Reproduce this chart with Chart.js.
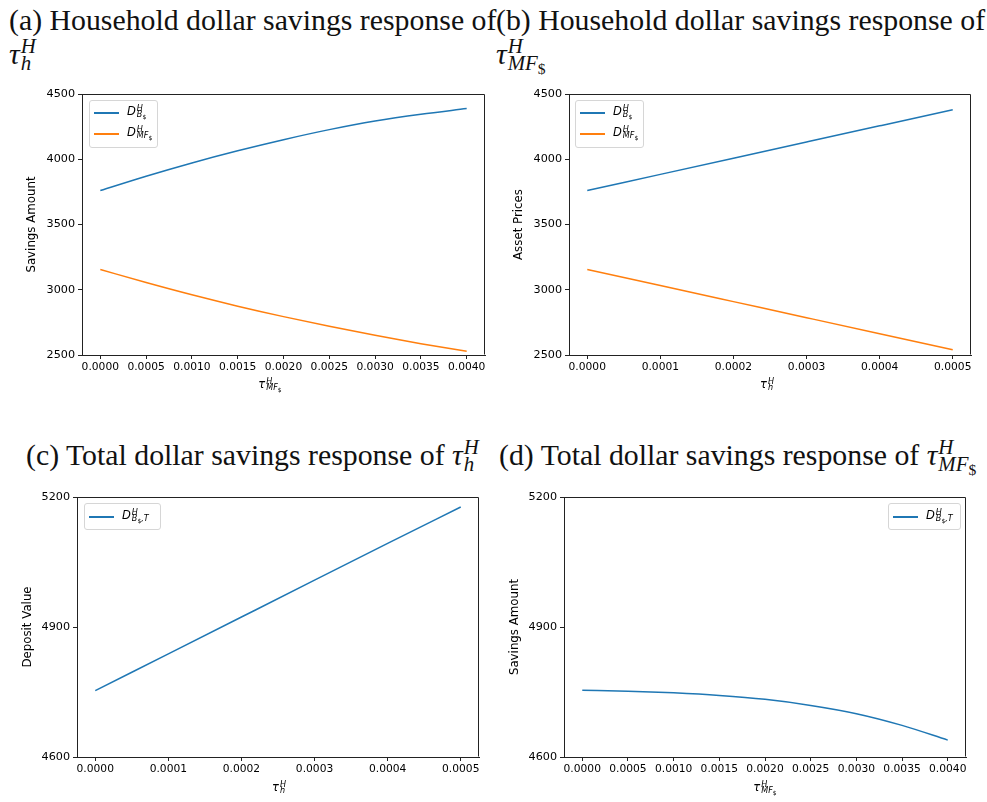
<!DOCTYPE html>
<html>
<head>
<meta charset="utf-8">
<script src="https://cdn.jsdelivr.net/npm/chart.js@4.4.0/dist/chart.umd.min.js"></script>
<style>
  html, body { margin: 0; padding: 0; background: #fff; }
  body { width: 987px; height: 802px; position: relative; overflow: hidden; font-family: "DejaVu Sans", sans-serif; color: #000; }
  canvas { position: absolute; }
  .title { position: absolute; font-family: "Liberation Serif", "DejaVu Serif", serif; font-size: 29.8px; line-height: 34px; white-space: nowrap; color: #111; }
  .mi { font-style: italic; }
  .ss { display: inline-flex; flex-direction: column; vertical-align: 0.38em; line-height: 0.82; margin-left: 1px; }
  .ss > span { font-size: 0.7em; display: block; font-style: italic; }
  .ssb { font-size: 0.75em; font-style: normal; position: relative; top: 0.25em; }
  .leg { position: absolute; border: 1px solid #d6d6d6; border-radius: 3px; background: rgba(255,255,255,0.85); box-sizing: border-box; }
  .leg .sw { position: absolute; height: 1.5px; width: 25px; }
  .leg .lab { position: absolute; font-size: 11.5px; line-height: 12px; white-space: nowrap; }
  .xlab { position: absolute; font-size: 11.5px; line-height: 12px; white-space: nowrap; transform: translateX(-50%); }
</style>
</head>
<body>

<!-- panel titles -->
<div class="title" style="left:9px;top:3px">(a) Household dollar savings response of<br><span class="mi">τ</span><span class="ss"><span>H</span><span>h</span></span></div>
<div class="title" style="left:496px;top:3px">(b) Household dollar savings response of<br><span class="mi">τ</span><span class="ss"><span>H</span><span>MF<span class="ssb">$</span></span></span></div>
<div class="title" style="left:26px;top:438px">(c) Total dollar savings response of <span class="mi">τ</span><span class="ss"><span>H</span><span>h</span></span></div>
<div class="title" style="left:499px;top:438px">(d) Total dollar savings response of <span class="mi">τ</span><span class="ss"><span>H</span><span>MF<span class="ssb">$</span></span></span></div>

<canvas id="cA" width="495" height="320" style="left:0px;top:80px"></canvas>
<canvas id="cB" width="497" height="320" style="left:490px;top:80px"></canvas>
<canvas id="cC" width="495" height="322" style="left:0px;top:480px"></canvas>
<canvas id="cD" width="497" height="322" style="left:490px;top:480px"></canvas>

<!-- legends -->
<div class="leg" style="left:89px;top:100px;width:69px;height:48px">
  <div class="sw" style="left:4px;top:11px;background:#1f77b4"></div>
  <div class="lab" style="left:37px;top:4px"><i>D</i><span class="ss"><span>H</span><span>B<span class="ssb">$</span></span></span></div>
  <div class="sw" style="left:4px;top:32px;background:#ff7f0e"></div>
  <div class="lab" style="left:37px;top:25px"><i>D</i><span class="ss"><span>H</span><span>MF<span class="ssb">$</span></span></span></div>
</div>
<div class="leg" style="left:575px;top:100px;width:69px;height:48px">
  <div class="sw" style="left:4px;top:11px;background:#1f77b4"></div>
  <div class="lab" style="left:37px;top:4px"><i>D</i><span class="ss"><span>H</span><span>B<span class="ssb">$</span></span></span></div>
  <div class="sw" style="left:4px;top:32px;background:#ff7f0e"></div>
  <div class="lab" style="left:37px;top:25px"><i>D</i><span class="ss"><span>H</span><span>MF<span class="ssb">$</span></span></span></div>
</div>
<div class="leg" style="left:84px;top:503px;width:77px;height:27px">
  <div class="sw" style="left:4px;top:12px;background:#1f77b4"></div>
  <div class="lab" style="left:37px;top:5px"><i>D</i><span class="ss"><span>H</span><span>B<span class="ssb">$</span>,T</span></span></div>
</div>
<div class="leg" style="left:888px;top:503px;width:73px;height:27px">
  <div class="sw" style="left:4px;top:12px;background:#1f77b4"></div>
  <div class="lab" style="left:37px;top:5px"><i>D</i><span class="ss"><span>H</span><span>B<span class="ssb">$</span>,T</span></span></div>
</div>

<!-- x-axis titles -->
<div class="xlab" style="left:270px;top:378px"><i>τ</i><span class="ss"><span>H</span><span>MF<span class="ssb">$</span></span></span></div>
<div class="xlab" style="left:767px;top:378px"><i>τ</i><span class="ss"><span>H</span><span>h</span></span></div>
<div class="xlab" style="left:279px;top:781px"><i>τ</i><span class="ss"><span>H</span><span>h</span></span></div>
<div class="xlab" style="left:765px;top:781px"><i>τ</i><span class="ss"><span>H</span><span>MF<span class="ssb">$</span></span></span></div>

<script>
// Tax rates on the horizontal axes
const tauMF = [0, 0.0005, 0.001, 0.0015, 0.002, 0.0025, 0.003, 0.0035, 0.004];
const tauH  = [0, 0.0001, 0.0002, 0.0003, 0.0004, 0.0005];

// (a) household savings against the money-fund tax
const bondSavingsVsMF = [3760, 3870, 3972, 4065, 4150, 4227, 4293, 4345, 4388];
const fundSavingsVsMF = [3155, 3055, 2961, 2874, 2794, 2720, 2651, 2587, 2528];

// (b) household savings against the household tax
const bondSavingsVsH = [3760, 3884, 4008, 4132, 4256, 4380];
const fundSavingsVsH = [3155, 3032, 2909, 2786, 2663, 2540];

// (c), (d) total dollar savings
const totalVsH  = [4753, 4838, 4923, 5008, 5093, 5177];
const totalVsMF = [4754, 4752, 4748, 4742, 4733, 4719, 4700, 4673, 4639];

// tick labels
const xTicksMF = [0, 0.0005, 0.001, 0.0015, 0.002, 0.0025, 0.003, 0.0035, 0.004];
const xTicksH  = [0, 0.0001, 0.0002, 0.0003, 0.0004, 0.0005];
const yTicksHousehold = [2500, 3000, 3500, 4000, 4500];
const yTicksTotal = [4600, 4900, 5200];

const BLUE = '#1f77b4', ORANGE = '#ff7f0e', INK = '#222';
const XFONT = { family: 'DejaVu Sans', size: 10.7 };
const YFONT = { family: 'DejaVu Sans', size: 11.2 };
const TFONT = { family: 'DejaVu Sans', size: 11.8 };

// draws the top and right spines so the plot is fully boxed
const frame = {
  id: 'frame',
  afterDraw(chart) {
    const { ctx, chartArea: a } = chart;
    ctx.save();
    ctx.strokeStyle = INK;
    ctx.lineWidth = 1;
    ctx.beginPath();
    ctx.moveTo(Math.round(a.left) + 0.5, Math.round(a.top) + 0.5);
    ctx.lineTo(Math.round(a.right) - 0.5, Math.round(a.top) + 0.5);
    ctx.lineTo(Math.round(a.right) - 0.5, Math.round(a.bottom) - 0.5);
    ctx.stroke();
    ctx.restore();
  }
};

const pts = (xs, ys) => xs.map((x, i) => ({ x, y: ys[i] }));

function makeChart(id, opts) {
  const datasets = opts.series.map(s => ({
    data: pts(opts.x, s.values),
    borderColor: s.color,
    borderWidth: 1.5,
    pointRadius: 0,
    fill: false,
    cubicInterpolationMode: 'monotone'
  }));
  return new Chart(document.getElementById(id), {
    type: 'line',
    data: { datasets },
    plugins: [frame],
    options: {
      responsive: false,
      animation: false,
      events: [],
      layout: { padding: { left: 0, top: opts.padTop, right: opts.padRight, bottom: 0 } },
      plugins: { legend: { display: false }, tooltip: { enabled: false } },
      scales: {
        x: {
          type: 'linear',
          min: opts.xMin, max: opts.xMax,
          afterBuildTicks: s => { s.ticks = opts.xTicks.map(v => ({ value: v })); },
          afterFit: s => { s.height = opts.xHeight; },
          ticks: { color: '#000', font: XFONT, maxRotation: 0, autoSkip: false, padding: 2,
                   callback: v => Number(v).toFixed(4) },
          grid: { drawOnChartArea: false, drawTicks: true, tickLength: 4, color: INK },
          border: { display: true, color: INK, width: 1 }
        },
        y: {
          type: 'linear',
          min: opts.yTicks[0], max: opts.yTicks[opts.yTicks.length - 1],
          afterBuildTicks: s => { s.ticks = opts.yTicks.map(v => ({ value: v })); },
          afterFit: s => { s.width = opts.yWidth; },
          ticks: { color: '#000', font: YFONT, padding: 3, callback: v => String(v) },
          grid: { drawOnChartArea: false, drawTicks: true, tickLength: 4, color: INK },
          border: { display: true, color: INK, width: 1 },
          title: { display: true, text: opts.yTitle, color: '#000', font: TFONT,
                   padding: { top: opts.yTitleOffset, bottom: 0 } }
        }
      }
    }
  });
}

makeChart('cA', {
  x: tauMF, xMin: -0.0002, xMax: 0.0042, xTicks: xTicksMF, yTicks: yTicksHousehold,
  series: [{ values: bondSavingsVsMF, color: BLUE }, { values: fundSavingsVsMF, color: ORANGE }],
  yTitle: 'Savings Amount', yTitleOffset: 25, yWidth: 82, xHeight: 45, padTop: 14, padRight: 10
});
makeChart('cB', {
  x: tauH, xMin: -0.000025, xMax: 0.000525, xTicks: xTicksH, yTicks: yTicksHousehold,
  series: [{ values: bondSavingsVsH, color: BLUE }, { values: fundSavingsVsH, color: ORANGE }],
  yTitle: 'Asset Prices', yTitleOffset: 22, yWidth: 79, xHeight: 45, padTop: 14, padRight: 16
});
makeChart('cC', {
  x: tauH, xMin: -0.000025, xMax: 0.000525, xTicks: xTicksH, yTicks: yTicksTotal,
  series: [{ values: totalVsH, color: BLUE }],
  yTitle: 'Deposit Value', yTitleOffset: 21, yWidth: 77, xHeight: 45, padTop: 17, padRight: 16
});
makeChart('cD', {
  x: tauMF, xMin: -0.0002, xMax: 0.0042, xTicks: xTicksMF, yTicks: yTicksTotal,
  series: [{ values: totalVsMF, color: BLUE }],
  yTitle: 'Savings Amount', yTitleOffset: 18, yWidth: 74, xHeight: 45, padTop: 17, padRight: 21
});
</script>
</body>
</html>
